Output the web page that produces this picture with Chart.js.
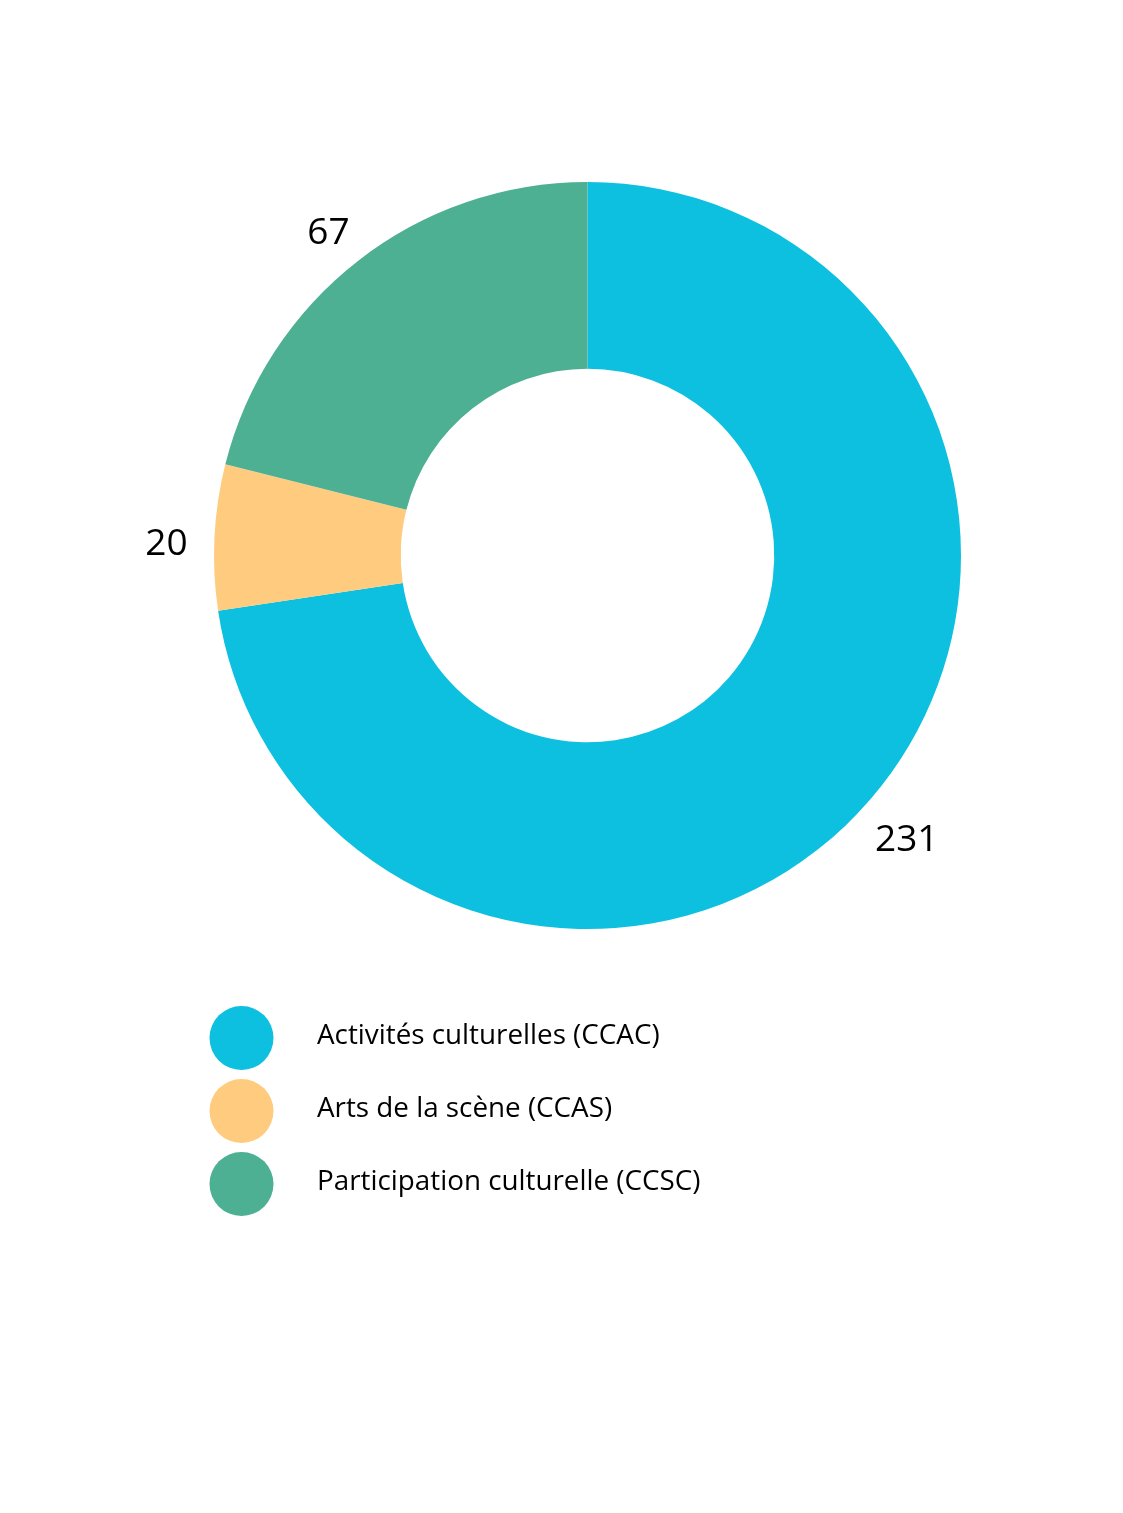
<!DOCTYPE html>
<html>
<head>
<meta charset="utf-8">
<script src="https://cdn.jsdelivr.net/npm/chart.js@4"></script>
<style>
  html, body { margin: 0; padding: 0; background: white; }
  #wrap { width: 1123px; height: 1513px; position: relative; }
</style>
</head>
<body>
<div id="wrap"><canvas id="chart"></canvas></div>
<script>
// données du graphique
const categories = ['Activités culturelles (CCAC)', 'Arts de la scène (CCAS)', 'Participation culturelle (CCSC)'];
const values = [231, 20, 67];
const colors = ['#0DC0DF', '#FFCB7E', '#4DB093'];

const fontfamily = '"Open Sans", "Noto Sans", sans-serif';

// étiquettes de valeur à l'extérieur de l'anneau
const valueLabels = {
  id: 'valueLabels',
  afterDatasetsDraw(chart) {
    const ctx = chart.ctx;
    const meta = chart.getDatasetMeta(0);
    ctx.save();
    ctx.font = `37px ${fontfamily}`;
    ctx.fillStyle = '#000';
    ctx.textAlign = 'center';
    ctx.textBaseline = 'middle';
    meta.data.forEach((arc, i) => {
      const p = arc.getProps(['x', 'y', 'startAngle', 'endAngle', 'outerRadius'], true);
      const mid = (p.startAngle + p.endAngle) / 2;
      const r = p.outerRadius + 48;
      ctx.fillText(String(values[i]), p.x + Math.cos(mid) * r, p.y + Math.sin(mid) * r + 10);
    });
    ctx.restore();
  }
};

// légende verticale sous l'anneau
const bigLegend = {
  id: 'bigLegend',
  afterDraw(chart) {
    const ctx = chart.ctx;
    ctx.save();
    ctx.font = `27.8px ${fontfamily}`;
    ctx.textBaseline = 'middle';
    ctx.textAlign = 'left';
    categories.forEach((label, i) => {
      const y = 1038 + i * 73;
      ctx.fillStyle = colors[i];
      ctx.beginPath();
      ctx.arc(241.5, y, 32, 0, Math.PI * 2);
      ctx.fill();
      ctx.fillStyle = '#000';
      ctx.fillText(label, 317, y - 2);
    });
    ctx.restore();
  }
};

new Chart(document.getElementById('chart'), {
  type: 'doughnut',
  data: {
    labels: categories,
    datasets: [{
      data: values,
      backgroundColor: colors,
      borderWidth: 0,
      hoverOffset: 0,
    }],
  },
  options: {
    responsive: true,
    maintainAspectRatio: false,
    cutout: '50%',
    layout: {
      padding: { top: 182, right: 162, bottom: 584, left: 214 },
    },
    plugins: {
      legend: { display: false },
      tooltip: { enabled: false },
    },
    animation: false,
  },
  plugins: [valueLabels, bigLegend],
});
</script>
</body>
</html>
